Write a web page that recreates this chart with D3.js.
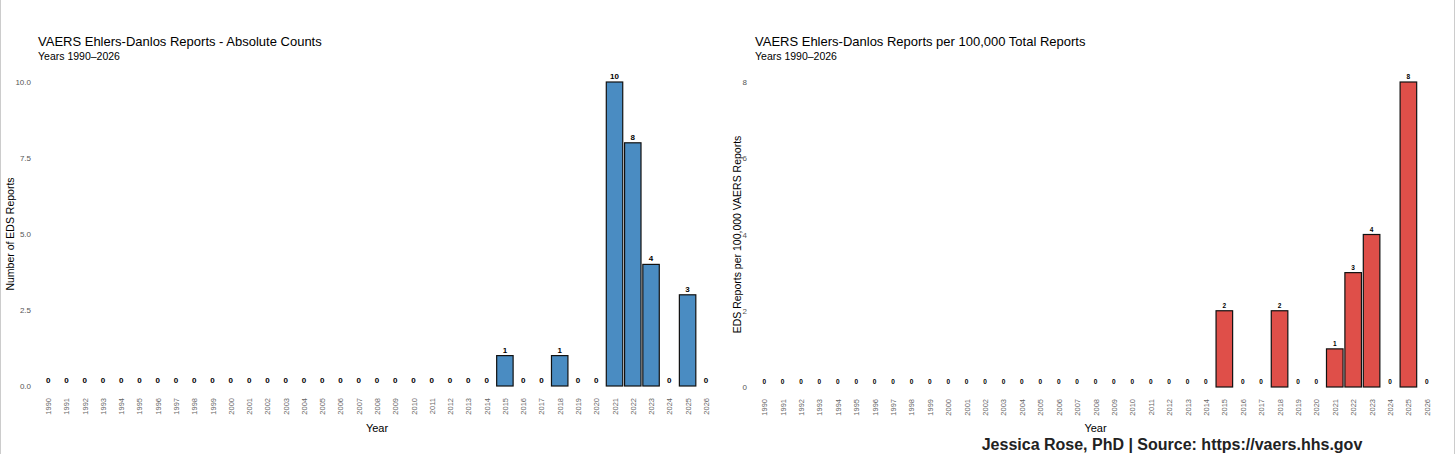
<!DOCTYPE html><html><head><meta charset="utf-8"><script src="https://cdn.jsdelivr.net/npm/d3@7"></script>
<style>body{margin:0;background:#fff}text{font-family:"Liberation Sans",Arial,sans-serif}</style></head><body>
<svg id="c" width="1456" height="454"></svg>
<script>
const years = d3.range(1990, 2027).map(String);
const counts = years.map(y => ({"2015":1,"2018":1,"2021":10,"2022":8,"2023":4,"2025":3}[y] || 0));
const rates = years.map(y => ({"2015":2,"2018":2,"2021":1,"2022":3,"2023":4,"2025":8}[y] || 0));
const leftTicks = [0, 2.5, 5, 7.5, 10];
const rightTicks = [0, 2, 4, 6, 8];
const svg = d3.select("#c");
svg.append("rect").attr("x",0.5).attr("y",-1).attr("width",1454).attr("height",456).attr("fill","none").attr("stroke","#ccc");
function panel(o){
  const g = svg.append("g");
  const x = d3.scaleBand().domain(years).range([o.x0,o.x1]).paddingInner(0.1).paddingOuter(0.05);
  const y = d3.scaleLinear().domain([0,o.max]).range([o.y0,o.y1]);
  g.append("text").attr("x",o.tx).attr("y",46).attr("font-size",13).text(o.title);
  g.append("text").attr("x",o.tx).attr("y",60).attr("font-size",10.5).text("Years 1990–2026");
  o.ticks.forEach(t=>g.append("text").attr("x",o.x0-8).attr("y",y(t)+3).attr("text-anchor","end").attr("font-size",8).attr("fill","#555").text(o.fmt(t)));
  years.forEach((yr,i)=>{
    const v=o.vals[i];
    g.append("rect").attr("x",x(yr)).attr("y",y(v)).attr("width",x.bandwidth()).attr("height",o.y0-y(v))
      .attr("fill",v?o.color:"#555").attr("stroke",v?"#111":"#666").attr("stroke-width",v?1.2:1.5);
    g.append("text").attr("x",x(yr)+x.bandwidth()/2).attr("y",y(v)-3).attr("text-anchor","middle").attr("font-size",o.lf).attr("font-weight","bold").text(v);
    g.append("text").attr("transform",`translate(${x(yr)+x.bandwidth()/2+3},${o.y0+12}) rotate(-90)`).attr("text-anchor","end").attr("font-size",7.5).attr("fill","#666").text(yr);
  });
  g.append("text").attr("x",(o.x0+o.x1)/2).attr("y",432).attr("text-anchor","middle").attr("font-size",11).text("Year");
  g.append("text").attr("transform",`translate(${o.yl},${(o.y0+o.y1)/2}) rotate(-90)`).attr("text-anchor","middle").attr("font-size",10.5).text(o.ytitle);
}
panel({x0:39,x1:715,y0:386,y1:82,max:10,vals:counts,ticks:leftTicks,fmt:d3.format(".1f"),color:"#4a8cc2",title:"VAERS Ehlers-Danlos Reports - Absolute Counts",tx:38,ytitle:"Number of EDS Reports",yl:14,lf:8});
panel({x0:755,x1:1436,y0:387,y1:82,max:8,vals:rates,ticks:rightTicks,fmt:d3.format("d"),color:"#df4f49",title:"VAERS Ehlers-Danlos Reports per 100,000 Total Reports",tx:755,ytitle:"EDS Reports per 100,000 VAERS Reports",yl:741,lf:6.5});
svg.append("text").attr("x",1172).attr("y",450).attr("text-anchor","middle").attr("font-size",16).attr("font-weight","bold").attr("fill","#222").text("Jessica Rose, PhD | Source: https://vaers.hhs.gov");
</script></body></html>
